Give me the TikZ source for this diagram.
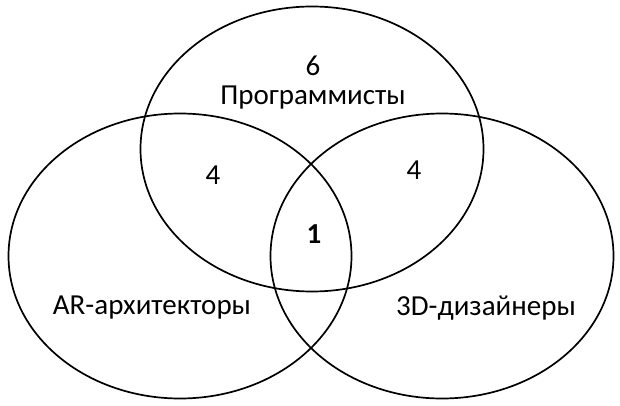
\documentclass[tikz,border=0pt]{standalone}
\usepackage{fontspec}
\setmainfont{Carlito}
\usepackage{tikz}
\usetikzlibrary{positioning,shapes.geometric}

\tikzset{
  vennset/.style={ellipse,draw=black,line width=1.7pt,minimum width=343pt,minimum height=285pt,inner sep=0pt},
  lbl/.style={font=\fontsize{29}{32}\selectfont,inner sep=0pt}
}

\begin{document}
\begin{tikzpicture}[x=1pt,y=-1pt]
\useasboundingbox (0,0) rectangle (620,406);
% Sets
\node[vennset] (prog) at (312,149) {};
\node[vennset] (arch) at (180,256) {};
\node[vennset] (dsgn) at (442,256) {};
% Set names
\node[lbl] (progname) at (313,98) {Программисты};
\node[lbl] (archname) at (152,308) {AR-архитекторы};
\node[lbl] (dsgnname) at (486,308) {3D-дизайнеры};
% Counts
\node[lbl] (nprog) at (313,66) {6};
\node[lbl] (nprogarch) at (213,175) {4};
\node[lbl] (nprogdsgn) at (414,170) {4};
\node[lbl] (nall) at (314,234) {\textbf{1}};
\end{tikzpicture}
\end{document}
